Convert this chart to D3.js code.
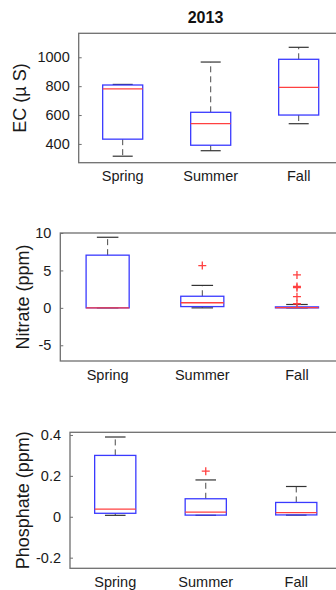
<!DOCTYPE html>
<html>
<head>
<meta charset="utf-8">
<script src="https://cdn.jsdelivr.net/npm/d3@7"></script>
<style>
  html, body { margin: 0; padding: 0; background: #fff; }
  svg { display: block; font-family: "Liberation Sans", Arial, Helvetica, sans-serif; }
</style>
</head>
<body>
<svg id="chart" width="336" height="590"></svg>
<script>
// Seasons on the x axis
const seasons = ["Spring", "Summer", "Fall"];

// Box summaries per season: [lower whisker, q1, median, q3, upper whisker]
const ecStats = [
  [315, 433, 781, 808, 812],
  [353, 391, 540, 619, 967],
  [540, 600, 791, 986, 1069]
];
const nitrateStats = [
  [0, 0, 0, 7.04, 9.43],
  [0, 0.17, 0.68, 1.55, 3.0],
  [0, 0, 0.02, 0.13, 0.45]
];
const phosphateStats = [
  [0.007, 0.017, 0.037, 0.30, 0.39],
  [0.007, 0.008, 0.023, 0.088, 0.18],
  [0.008, 0.009, 0.020, 0.070, 0.148]
];

// Outlying observations per season
const ecOutliers = [[], [], []];
const nitrateOutliers = [[], [5.65], [4.4, 2.85, 2.7, 1.5, 0.55]];
const phosphateOutliers = [[], [0.223], []];

// Y tick values and labels
const ecTicks = [400, 600, 800, 1000];
const nitrateTicks = [-5, 0, 5, 10];
const phosphateTicks = [-0.2, 0, 0.2, 0.4];
const phosphateTickLabels = ["-0.2", "0", "0.2", "0.4"];

const svg = d3.select("#chart");

const panels = [
  { stats: ecStats, outliers: ecOutliers, ticks: ecTicks, labels: ecTicks.map(String),
    yLabel: "EC (\u00b5 S)", domain: [270, 1166],
    left: 78.7, right: 342.7, top: 33.3, bottom: 162.7, labelX: 25.5 },
  { stats: nitrateStats, outliers: nitrateOutliers, ticks: nitrateTicks, labels: nitrateTicks.map(String),
    yLabel: "Nitrate (ppm)", domain: [-7.1, 10],
    left: 60.3, right: 344.3, top: 233, bottom: 361, labelX: 28.5 },
  { stats: phosphateStats, outliers: phosphateOutliers, ticks: phosphateTicks, labels: phosphateTickLabels,
    yLabel: "Phosphate (ppm)", domain: [-0.252, 0.413],
    left: 70, right: 341.5, top: 432.3, bottom: 568.3, labelX: 29 }
];

const boxColor = "#3a3aff";
const medianColor = "#ff4040";
const whiskerColor = "#4a4a4a";
const axisColor = "#6f6f6f";
const textColor = "#1a1a1a";

// Title
svg.append("text")
  .attr("x", 205.5).attr("y", 22.7)
  .attr("text-anchor", "middle")
  .attr("font-size", 16).attr("font-weight", "bold")
  .attr("fill", "#111")
  .text("2013");

panels.forEach(p => {
  const x = d3.scaleLinear().domain([0.5, seasons.length + 0.5]).range([p.left, p.right]);
  const y = d3.scaleLinear().domain(p.domain).range([p.bottom, p.top]);
  const g = svg.append("g");
  const bw = x(1.455) - x(1);   // box width in px
  const cw = bw / 2;            // whisker cap width

  // Axes frame
  g.append("rect")
    .attr("x", p.left).attr("y", p.top)
    .attr("width", p.right - p.left).attr("height", p.bottom - p.top)
    .attr("fill", "none").attr("stroke", axisColor).attr("stroke-width", 1.3);

  // Y axis ticks (inward) and labels
  const yAxis = d3.axisLeft(y).tickValues(p.ticks)
    .tickSizeInner(-3).tickSizeOuter(0).tickPadding(9)
    .tickFormat((d, i) => p.labels[i]);
  const ya = g.append("g").attr("transform", `translate(${p.left},0)`).call(yAxis);
  ya.select(".domain").remove();
  ya.selectAll(".tick line").attr("stroke", axisColor).attr("stroke-width", 1);
  ya.selectAll(".tick text")
    .attr("font-size", 14.5).attr("fill", textColor)
    .attr("font-family", "Liberation Sans, Arial, sans-serif");

  // Category labels
  g.selectAll(".cat").data(seasons).enter().append("text")
    .attr("x", (d, i) => x(i + 1)).attr("y", p.bottom + 18.5)
    .attr("text-anchor", "middle").attr("font-size", 14.5).attr("fill", textColor)
    .text(d => d);

  // Y label
  g.append("text")
    .attr("transform", `translate(${p.labelX},${(p.top + p.bottom) / 2}) rotate(-90)`)
    .attr("text-anchor", "middle").attr("font-size", 18).attr("fill", textColor)
    .text(p.yLabel);

  p.stats.forEach((s, i) => {
    const cx = x(i + 1);
    const [lo, q1, med, q3, hi] = s;
    // Whiskers
    g.append("line").attr("x1", cx).attr("x2", cx).attr("y1", y(q3)).attr("y2", y(hi))
      .attr("stroke", whiskerColor).attr("stroke-width", 1).attr("stroke-dasharray", "6,4");
    g.append("line").attr("x1", cx).attr("x2", cx).attr("y1", y(q1)).attr("y2", y(lo))
      .attr("stroke", whiskerColor).attr("stroke-width", 1).attr("stroke-dasharray", "6,4");
    // Caps
    [lo, hi].forEach(v => {
      g.append("line").attr("x1", cx - cw / 2).attr("x2", cx + cw / 2)
        .attr("y1", y(v)).attr("y2", y(v))
        .attr("stroke", "#333").attr("stroke-width", 1.2);
    });
    // Box
    g.append("rect")
      .attr("x", cx - bw / 2).attr("y", y(q3))
      .attr("width", bw).attr("height", Math.max(0.01, y(q1) - y(q3)))
      .attr("fill", "none").attr("stroke", boxColor).attr("stroke-width", 1.3);
    // Median
    g.append("line").attr("x1", cx - bw / 2).attr("x2", cx + bw / 2)
      .attr("y1", y(med)).attr("y2", y(med))
      .attr("stroke", medianColor).attr("stroke-width", 1.3);
    // Outliers
    p.outliers[i].forEach(v => {
      const oy = y(v);
      g.append("path")
        .attr("d", `M${cx - 4},${oy}H${cx + 4}M${cx},${oy - 4}V${oy + 4}`)
        .attr("stroke", medianColor).attr("stroke-width", 1.3).attr("fill", "none");
    });
  });
});
</script>
</body>
</html>
